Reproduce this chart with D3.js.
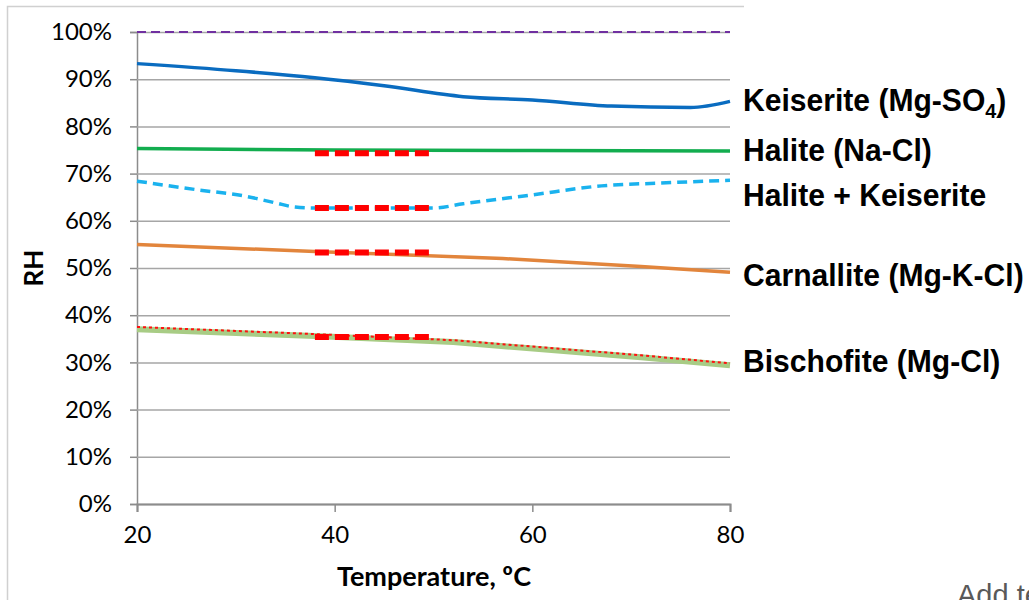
<!DOCTYPE html>
<html>
<head>
<meta charset="utf-8">
<script src="https://cdn.jsdelivr.net/npm/d3@7"></script>
<style>
	body { margin: 0; background: #fff; }
	svg { display: block; }
	.tick text { font-family: Lato, "Open Sans", sans-serif; font-size: 24px; fill: #000; }
</style>
</head>
<body>
<div id="chart"></div>
<script>
// temperature (ºC) / relative humidity (%)
var keiseriteT = [20, 30, 38, 45, 53, 60, 68, 76, 80];
var keiseriteRH = [93.3, 91.8, 90.3, 88.6, 86.3, 85.6, 84.3, 84.0, 85.3];

var haliteT = [20, 40, 60, 80];
var haliteRH = [75.3, 75.0, 74.9, 74.8];

var haliteKeiseriteT = [20, 26, 31, 34, 36, 38, 50, 53, 60, 67, 73, 80];
var haliteKeiseriteRH = [68.4, 66.6, 65.2, 63.8, 62.9, 62.7, 62.7, 63.6, 65.5, 67.4, 68.0, 68.6];

var carnalliteT = [20, 38, 57, 71, 80];
var carnalliteRH = [55.0, 53.5, 52.0, 50.3, 49.1];

var bischofiteT = [20, 38, 52, 71, 80];
var bischofiteRH = [37.0, 35.6, 34.3, 31.1, 29.4];
var bischofiteCalcRH = [37.5, 36.0, 34.7, 31.5, 29.8];

// measured range (red thick dashes)
var measuredT = [38, 50];
var measuredRH = [74.3, 62.7, 53.3, 35.4];

var saturationT = [20, 80];
var saturationRH = [100, 100];

var xTicks = [20, 40, 60, 80];
var yTicks = [0, 10, 20, 30, 40, 50, 60, 70, 80, 90, 100];

var labelNames = ['Keiserite (Mg-SO', 'Halite (Na-Cl)', 'Halite + Keiserite', 'Carnallite (Mg-K-Cl)', 'Bischofite (Mg-Cl)'];

var width = 1029, height = 600;
var plot = {left: 137, right: 730, top: 32, bottom: 504};

var svg = d3.select('#chart').append('svg')
	.attr('width', width)
	.attr('height', height);

// partial frame of the pasted chart
svg.append('path')
	.attr('d', 'M7.5,600V6.5H744')
	.attr('fill', 'none')
	.attr('stroke', '#d0d0d0')
	.attr('stroke-width', 1.5);

var x = d3.scaleLinear().domain([20, 80]).range([plot.left, plot.right]);
var y = d3.scaleLinear().domain([0, 100]).range([plot.bottom, plot.top]);

// y axis with gridlines
var yAxis = svg.append('g')
	.attr('transform', 'translate(' + x(20) + ',0)')
	.call(d3.axisLeft(y).tickValues(yTicks).tickFormat(d => d + '%').tickSize(7).tickPadding(18));
yAxis.select('.domain').attr('stroke', '#8c8c8c').attr('stroke-width', 1.5);
yAxis.selectAll('.tick line').attr('stroke', '#8c8c8c').attr('stroke-width', 1.5);
yAxis.selectAll('.tick').append('line')
	.attr('x1', 0).attr('x2', x(80) - x(20))
	.attr('stroke', '#a6a6a6').attr('stroke-width', 1.5);

// x axis
var xAxis = svg.append('g')
	.attr('transform', 'translate(0,' + y(0) + ')')
	.call(d3.axisBottom(x).tickValues(xTicks).tickSize(8).tickPadding(14));
xAxis.select('.domain').attr('stroke', '#8c8c8c').attr('stroke-width', 2);
xAxis.selectAll('.tick line').attr('stroke', '#8c8c8c').attr('stroke-width', 1.5);

svg.append('text')
	.attr('x', 434).attr('y', 586)
	.attr('text-anchor', 'middle')
	.style('font-family', 'Lato, sans-serif').style('font-weight', 'bold').style('font-size', '27px')
	.text('Temperature, ºC');

svg.append('text')
	.attr('transform', 'translate(43,' + y(50) + ') rotate(-90)')
	.attr('text-anchor', 'middle')
	.style('font-family', 'Lato, sans-serif').style('font-weight', 'bold').style('font-size', '26px')
	.text('RH');

var line = d3.line().x(d => x(d[0])).y(d => y(d[1]));
var smooth = d3.line().x(d => x(d[0])).y(d => y(d[1])).curve(d3.curveMonotoneX);
var zip = (ts, vs) => ts.map((t, i) => [t, vs[i]]);

function drawSeries(pts, gen, color, w, dash) {
	svg.append('path')
		.datum(pts)
		.attr('d', gen)
		.attr('fill', 'none')
		.attr('stroke', color)
		.attr('stroke-width', w)
		.attr('stroke-dasharray', dash)
		.attr('stroke-linejoin', 'round');
}

drawSeries(zip(saturationT, saturationRH), line, '#7030a0', 2, '9,5');
drawSeries(zip(keiseriteT, keiseriteRH), smooth, '#0a6cc0', 3.5, null);
drawSeries(zip(haliteT, haliteRH), line, '#12ad4f', 3.5, null);
drawSeries(zip(haliteKeiseriteT, haliteKeiseriteRH), smooth, '#1ab2ee', 3.5, '10,6');
drawSeries(zip(carnalliteT, carnalliteRH), line, '#e2853c', 3.5, null);
drawSeries(zip(bischofiteT, bischofiteRH), line, '#a8cc85', 6, null);
drawSeries(zip(bischofiteT, bischofiteCalcRH), line, '#ff1010', 2, '3,3');

measuredRH.forEach(function(v) {
	drawSeries(measuredT.map(t => [t, v]), line, '#ff0000', 6, '14,6');
});

// mineral labels at the right end of each curve
var labelNudge = [-1, -1, 15, 3, -4];
var labelEnds = [keiseriteRH, haliteRH, haliteKeiseriteRH, carnalliteRH, bischofiteRH]
	.map(a => a[a.length - 1]);
var labels = svg.selectAll('text.mineral')
	.data(labelNames)
	.enter()
	.append('text')
	.attr('class', 'mineral')
	.attr('transform', (d, i) => 'translate(743,' + (y(labelEnds[i]) + labelNudge[i] + 11) + ') scale(0.94,1)')
	.style('font-family', '"Liberation Sans", Arial, sans-serif')
	.style('font-weight', 'bold')
	.style('font-size', '32px')
	.text(d => d);
var kLabel = d3.select(labels.nodes()[0]);
kLabel.append('tspan').attr('dy', 7).style('font-size', '21px').text('4');
kLabel.append('tspan').attr('dy', -7).text(')');

svg.append('text')
	.attr('x', 957).attr('y', 605)
	.style('font-family', '"Liberation Sans", Arial, sans-serif')
	.style('font-size', '29px')
	.attr('fill', '#595959')
	.text('Add text');
</script>
</body>
</html>
